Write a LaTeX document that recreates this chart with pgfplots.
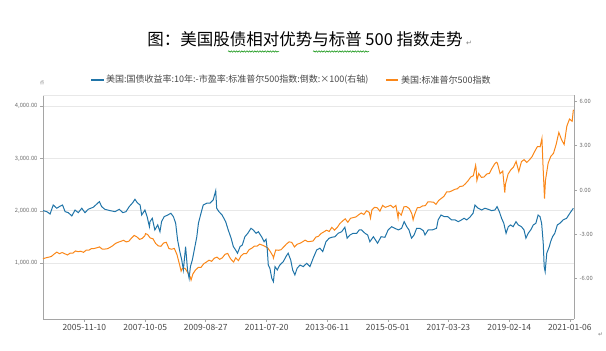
\documentclass[border=0pt]{standalone}
\usepackage{pgfplots}
\pgfplotsset{compat=1.18}
\usepackage{fontspec}
\setmainfont{Noto Sans CJK SC}
\newfontfamily\dejavu{DejaVu Sans}
\usetikzlibrary{decorations.pathmorphing}
\definecolor{sblue}{RGB}{32,116,168}
\definecolor{sorange}{RGB}{250,135,25}
\definecolor{gridc}{RGB}{232,232,232}
\definecolor{axc}{RGB}{165,165,165}
\definecolor{txtc}{RGB}{70,70,70}

\pgfplotstableread{
x y
2004.57 1085
2004.667 1104
2004.75 1115
2004.833 1130
2004.917 1174
2005.0 1212
2005.083 1181
2005.167 1204
2005.25 1181
2005.333 1157
2005.417 1192
2005.5 1191
2005.583 1234
2005.667 1220
2005.75 1229
2005.833 1207
2005.917 1249
2006.0 1248
2006.083 1280
2006.167 1281
2006.25 1295
2006.333 1311
2006.417 1270
2006.5 1270
2006.583 1277
2006.667 1304
2006.75 1336
2006.833 1378
2006.917 1401
2007.0 1418
2007.083 1438
2007.167 1407
2007.25 1421
2007.333 1482
2007.417 1531
2007.5 1503
2007.583 1455
2007.667 1474
2007.75 1527
2007.77 1565
2007.833 1549
2007.917 1481
2008.0 1468
2008.083 1379
2008.167 1331
2008.25 1323
2008.333 1386
2008.417 1400
2008.5 1280
2008.583 1267
2008.667 1283
2008.75 1166
2008.833 969
2008.88 848
2008.917 896
2009.0 903
2009.083 826
2009.167 735
2009.19 677
2009.25 798
2009.333 873
2009.417 919
2009.5 919
2009.583 987
2009.667 1021
2009.75 1057
2009.833 1036
2009.917 1096
2010.0 1115
2010.083 1074
2010.167 1104
2010.25 1169
2010.333 1187
2010.417 1089
2010.5 1031
2010.52 1022
2010.583 1102
2010.667 1049
2010.75 1141
2010.833 1183
2010.917 1181
2011.0 1258
2011.083 1286
2011.167 1327
2011.25 1326
2011.333 1364
2011.417 1345
2011.5 1321
2011.583 1292
2011.667 1219
2011.75 1131
2011.76 1099
2011.833 1253
2011.917 1247
2012.0 1258
2012.083 1312
2012.167 1366
2012.25 1408
2012.333 1398
2012.417 1310
2012.5 1362
2012.583 1379
2012.667 1407
2012.75 1441
2012.833 1412
2012.917 1416
2013.0 1426
2013.083 1498
2013.167 1515
2013.25 1569
2013.333 1598
2013.417 1631
2013.5 1606
2013.583 1686
2013.667 1633
2013.75 1682
2013.833 1757
2013.917 1806
2014.0 1848
2014.083 1783
2014.167 1859
2014.25 1872
2014.333 1884
2014.417 1924
2014.5 1960
2014.583 1931
2014.667 2003
2014.75 1972
2014.79 1862
2014.833 2018
2014.917 2068
2015.0 2059
2015.083 1995
2015.167 2105
2015.25 2068
2015.333 2086
2015.417 2107
2015.5 2063
2015.583 2104
2015.65 1867
2015.667 1972
2015.75 1920
2015.833 2079
2015.917 2080
2016.0 2044
2016.083 1940
2016.12 1829
2016.167 1932
2016.25 2060
2016.333 2065
2016.417 2097
2016.5 2099
2016.583 2174
2016.667 2171
2016.75 2168
2016.833 2126
2016.917 2199
2017.0 2239
2017.083 2279
2017.167 2364
2017.25 2363
2017.333 2384
2017.417 2412
2017.5 2423
2017.583 2470
2017.667 2472
2017.75 2519
2017.833 2575
2017.917 2648
2018.0 2674
2018.07 2873
2018.083 2824
2018.11 2581
2018.167 2714
2018.25 2641
2018.333 2648
2018.417 2705
2018.5 2718
2018.583 2816
2018.667 2902
2018.72 2930
2018.75 2914
2018.833 2712
2018.917 2760
2018.98 2351
2019.0 2507
2019.083 2704
2019.167 2784
2019.25 2834
2019.333 2946
2019.417 2752
2019.5 2942
2019.583 2980
2019.667 2926
2019.75 2977
2019.833 3038
2019.917 3141
2020.0 3231
2020.083 3226
2020.14 3386
2020.167 2954
2020.22 2237
2020.25 2585
2020.333 2912
2020.417 3044
2020.5 3100
2020.583 3271
2020.667 3500
2020.75 3363
2020.833 3270
2020.917 3622
2021.0 3756
2021.083 3714
2021.12 3934
}\spx

\pgfplotstableread{
x y
2004.57 -1.40
2004.69 -1.47
2004.79 -1.63
2004.89 -1.02
2005.00 -1.24
2005.08 -1.13
2005.18 -1.02
2005.26 -1.47
2005.36 -1.54
2005.47 -1.76
2005.57 -1.36
2005.67 -1.54
2005.78 -1.24
2005.88 -1.54
2005.98 -1.31
2006.14 -1.17
2006.25 -0.95
2006.33 -0.79
2006.40 -1.13
2006.50 -1.31
2006.66 -1.40
2006.82 -1.47
2006.95 -1.31
2007.06 -1.54
2007.16 -1.47
2007.26 -1.13
2007.37 -0.86
2007.44 -0.63
2007.51 -0.86
2007.60 -1.02
2007.65 -1.70
2007.75 -1.36
2007.82 -1.81
2007.89 -2.49
2007.91 -2.15
2007.98 -1.92
2008.06 -2.71
2008.15 -2.37
2008.22 -2.83
2008.27 -2.15
2008.35 -1.81
2008.46 -1.70
2008.56 -1.58
2008.64 -1.81
2008.71 -2.26
2008.77 -3.39
2008.84 -4.18
2008.90 -4.75
2008.95 -5.42
2008.98 -4.75
2009.02 -3.84
2009.08 -5.42
2009.13 -5.99
2009.17 -5.20
2009.23 -4.75
2009.29 -4.07
2009.37 -3.17
2009.42 -2.26
2009.50 -1.58
2009.57 -1.02
2009.68 -0.90
2009.78 -0.90
2009.88 -0.68
2009.96 -0.05
2009.99 -1.24
2010.06 -1.47
2010.16 -1.70
2010.27 -2.15
2010.35 -2.71
2010.44 -3.27
2010.51 -3.84
2010.58 -4.07
2010.64 -4.29
2010.72 -3.84
2010.79 -3.73
2010.87 -3.17
2010.96 -2.94
2011.06 -2.60
2011.13 -2.71
2011.22 -2.94
2011.29 -2.83
2011.39 -3.17
2011.47 -3.51
2011.53 -3.34
2011.57 -4.07
2011.60 -5.09
2011.65 -5.31
2011.71 -5.99
2011.76 -6.22
2011.81 -5.20
2011.88 -5.42
2011.96 -5.09
2012.07 -4.86
2012.15 -4.52
2012.22 -4.29
2012.30 -4.75
2012.36 -5.42
2012.43 -5.76
2012.50 -5.31
2012.59 -5.09
2012.69 -5.20
2012.80 -4.97
2012.90 -5.20
2013.00 -4.63
2013.11 -4.07
2013.21 -3.95
2013.30 -4.18
2013.40 -3.51
2013.50 -3.27
2013.58 -3.21
2013.68 -3.17
2013.78 -2.94
2013.89 -2.83
2013.99 -2.53
2014.06 -3.27
2014.15 -3.05
2014.25 -2.94
2014.36 -2.94
2014.44 -2.71
2014.51 -2.71
2014.62 -2.94
2014.70 -3.05
2014.77 -3.51
2014.88 -3.17
2015.01 -3.61
2015.12 -3.17
2015.24 -3.21
2015.34 -2.71
2015.45 -2.49
2015.55 -2.60
2015.66 -2.71
2015.76 -2.60
2015.84 -2.15
2015.92 -2.49
2015.99 -2.71
2016.07 -3.27
2016.15 -3.05
2016.23 -2.60
2016.33 -2.60
2016.44 -2.76
2016.49 -3.05
2016.59 -2.71
2016.72 -2.71
2016.85 -2.60
2016.90 -2.03
2016.99 -1.70
2017.09 -1.81
2017.20 -1.81
2017.32 -2.03
2017.43 -2.03
2017.53 -2.15
2017.63 -2.03
2017.71 -1.92
2017.79 -2.03
2017.89 -1.85
2017.99 -1.58
2018.05 -1.02
2018.15 -1.24
2018.26 -1.36
2018.36 -1.24
2018.46 -1.31
2018.57 -1.40
2018.67 -1.36
2018.74 -1.13
2018.81 -1.47
2018.88 -1.92
2018.95 -2.26
2019.02 -2.94
2019.09 -2.49
2019.16 -2.37
2019.24 -2.49
2019.33 -2.15
2019.40 -2.37
2019.50 -2.49
2019.58 -2.71
2019.64 -3.27
2019.71 -2.94
2019.79 -2.71
2019.87 -2.37
2019.95 -2.26
2020.02 -1.70
2020.08 -1.81
2020.13 -2.26
2020.18 -3.61
2020.21 -5.20
2020.24 -5.54
2020.29 -4.29
2020.37 -3.84
2020.41 -3.51
2020.47 -3.17
2020.54 -2.94
2020.62 -2.37
2020.70 -2.26
2020.80 -2.03
2020.91 -1.92
2021.01 -1.58
2021.12 -1.24
}\spread

\begin{document}
\begin{tikzpicture}
\path[use as bounding box] (0,0) rectangle (606pt,351pt);

% title
\node[anchor=center, font=\fontsize{16.5}{18}\selectfont] at (305pt,312pt) {图：美国股债相对优势与标普 500 指数走势};
\node[anchor=west, text=gray, font=\dejavu\fontsize{7}{8}\selectfont, inner sep=0pt] at (466pt,308pt) {↵};
\draw[green!55!black, line width=0.5pt, decorate, decoration={snake, amplitude=0.7pt, segment length=2.6pt}] (228pt,299.5pt) -- (279pt,299.5pt);
\draw[green!55!black, line width=0.5pt, decorate, decoration={snake, amplitude=0.7pt, segment length=2.6pt}] (313pt,299.5pt) -- (369pt,299.5pt);

% legend
\draw[sblue, line width=2pt] (91pt,271pt) -- (104pt,271pt);
\node[anchor=west, inner sep=0pt, text=txtc, font=\fontsize{9}{10}\selectfont] at (106pt,271pt) {美国:国债收益率:10年:-市盈率:标准普尔500指数:倒数:×100(右轴)};
\draw[sorange, line width=2pt] (386pt,271pt) -- (398pt,271pt);
\node[anchor=west, inner sep=0pt, text=txtc, font=\fontsize{9}{10}\selectfont] at (401pt,271pt) {美国:标准普尔500指数};

% unit mark
\node[text=gray, font=\fontsize{4.5}{5}\selectfont, inner sep=0pt] at (42pt,268pt) {点};
\node[anchor=west, text=gray, font=\dejavu\fontsize{6}{7}\selectfont, inner sep=0pt] at (598pt,16pt) {↵};

\begin{axis}[
  at={(43pt,32pt)}, anchor=south west,
  scale only axis, width=531pt, height=224pt,
  xmin=2004.57, xmax=2021.14,
  ymin=-67, ymax=4216,
  axis x line*=bottom, axis y line*=left,
  axis line style={draw=axc, line width=0.8pt},
  xtick={2005.86,2007.76,2009.65,2011.55,2013.44,2015.33,2017.22,2019.12,2021.01},
  xticklabels={2005-11-10,2007-10-05,2009-08-27,2011-07-20,2013-06-11,2015-05-01,2017-03-23,2019-02-14,2021-01-06},
  ytick={1000,2000,3000,4000},
  yticklabels={{1,000.00},{2,000.00},{3,000.00},{4,000.00}},
  tick align=outside, major tick length=3pt,
  tick style={draw=axc, line width=0.6pt},
  xticklabel style={text=txtc, font=\fontsize{8.5}{9}\selectfont, yshift=1pt},
  yticklabel style={text=txtc!80, font=\fontsize{5.8}{6}\selectfont, xshift=1pt},
  ymajorgrids, grid style={draw=gridc, line width=1.1pt},
  clip=true,
]
\draw[gridc, line width=0.8pt] (rel axis cs:0,1) -- (rel axis cs:1,1);
\addplot[sorange, line width=1pt, no markers] table[x=x,y=y] {\spx};
\end{axis}

\begin{axis}[
  at={(43pt,32pt)}, anchor=south west,
  scale only axis, width=531pt, height=224pt,
  xmin=2004.57, xmax=2021.14,
  ymin=-8.75, ymax=6.44,
  axis x line=none, axis y line*=right,
  axis line style={draw=axc, line width=0.8pt},
  ytick={-6,-3,0,3,6},
  yticklabels={-6.00,-3.00,0.00,3.00,6.00},
  tick align=outside, major tick length=3pt,
  tick style={draw=axc, line width=0.6pt},
  yticklabel style={text=txtc!80, font=\fontsize{5.8}{6}\selectfont, xshift=-1pt},
  clip=true,
]
\addplot[sblue, line width=1pt, no markers] table[x=x,y=y] {\spread};
\end{axis}
\end{tikzpicture}
\end{document}
